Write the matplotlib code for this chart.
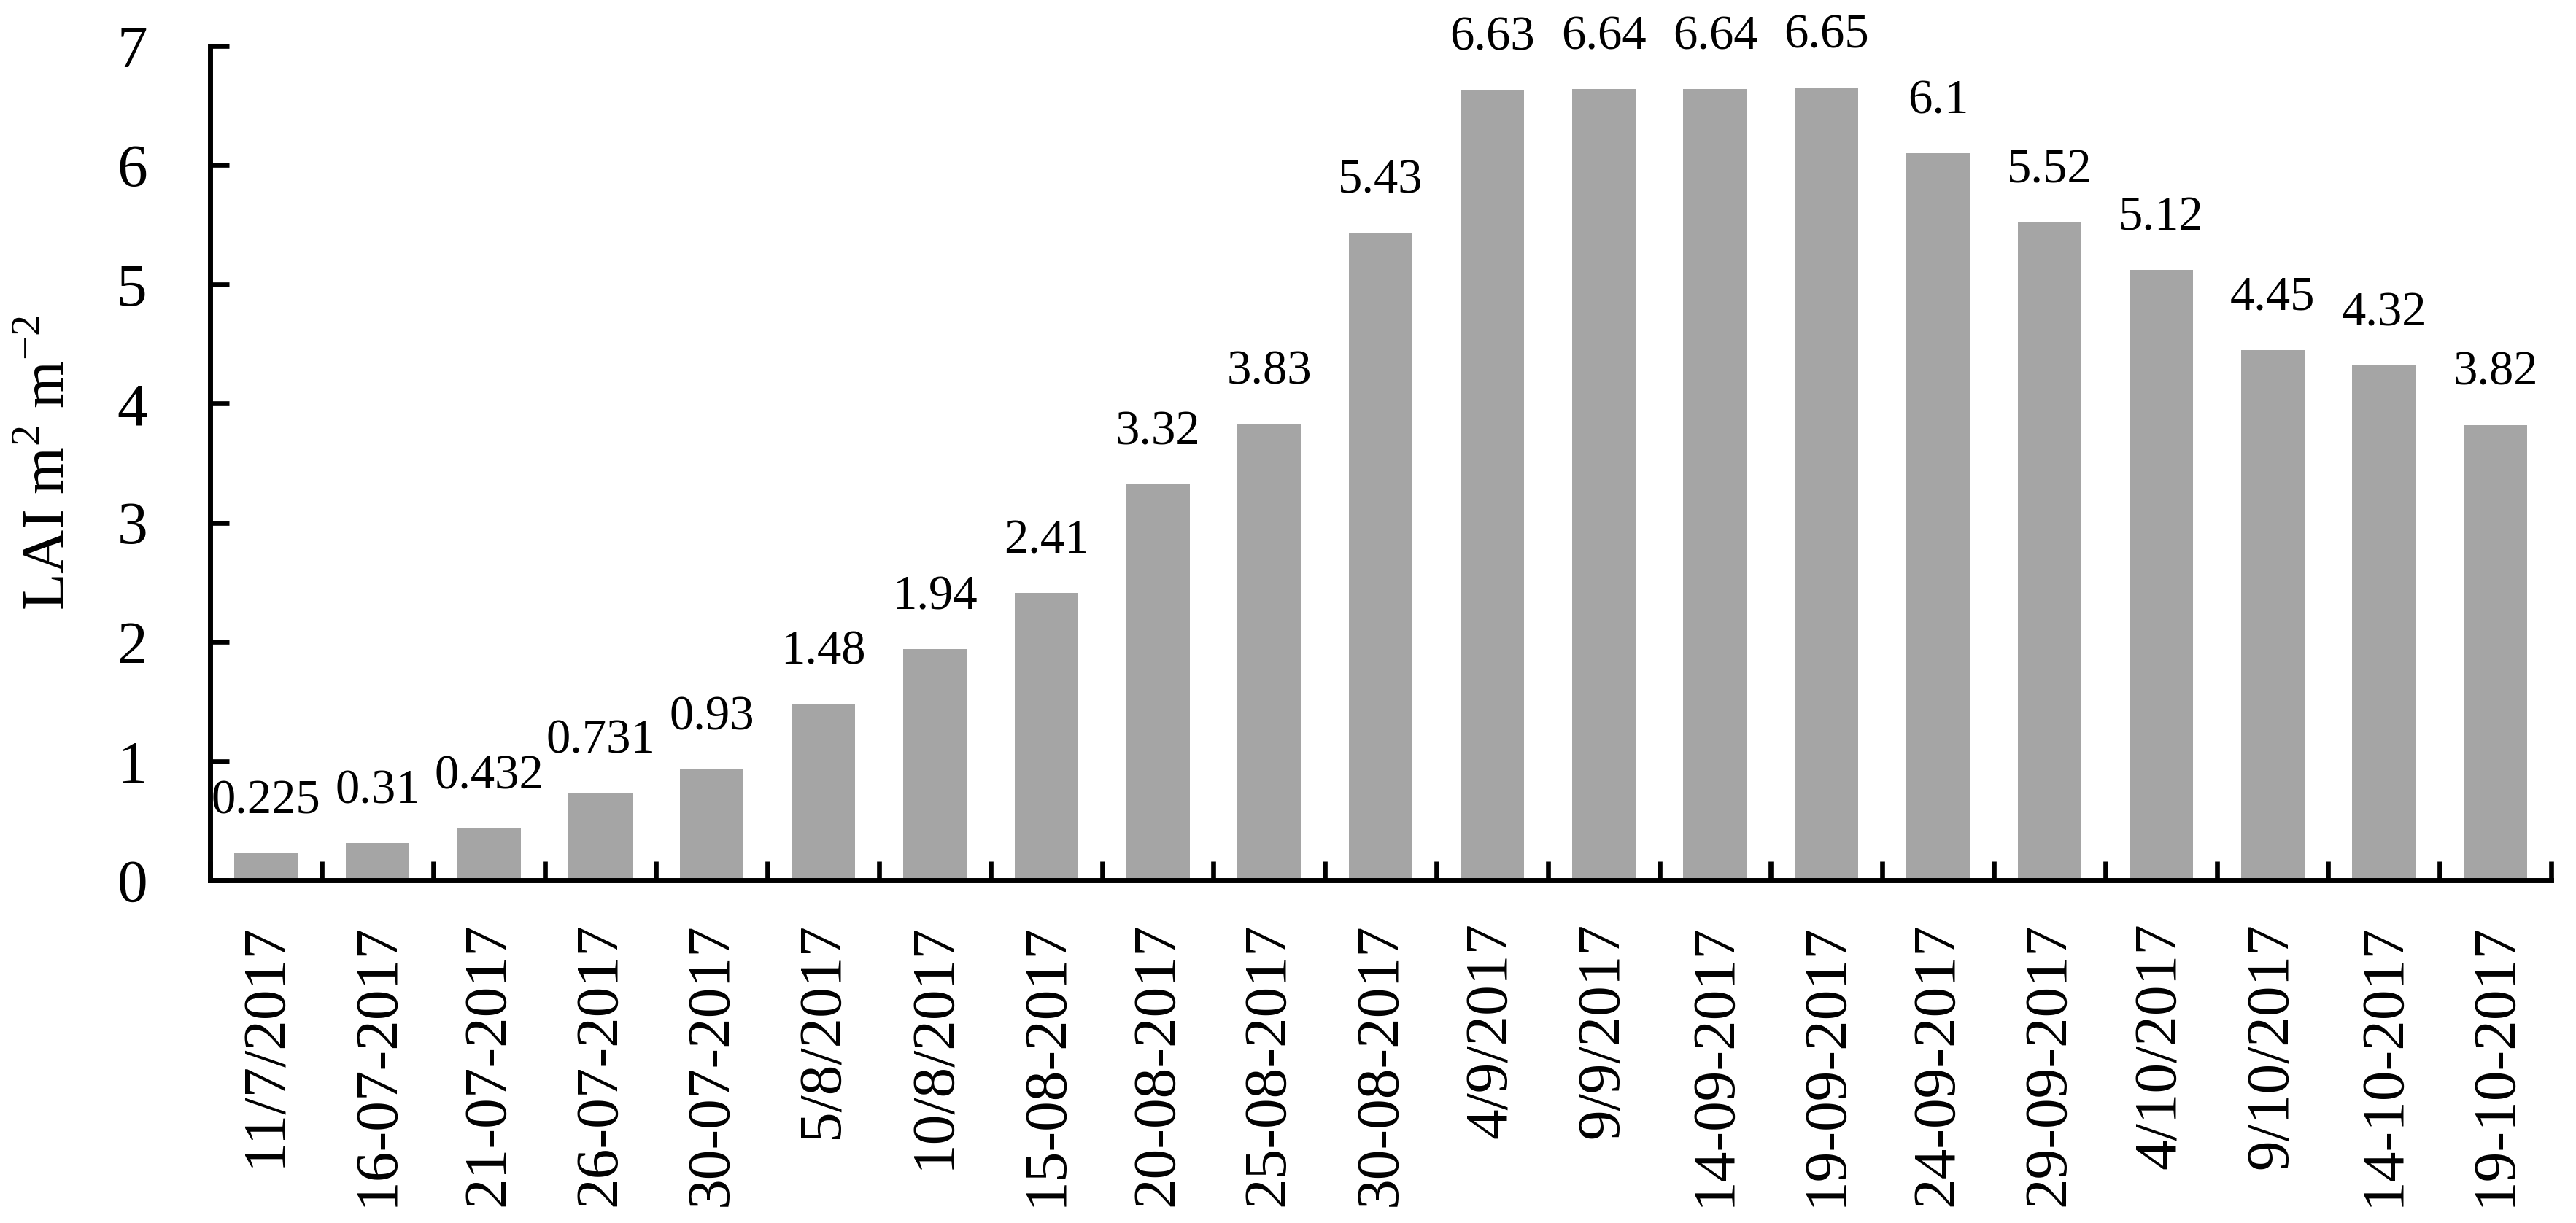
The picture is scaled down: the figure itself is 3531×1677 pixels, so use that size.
import matplotlib
matplotlib.use("Agg")
import matplotlib.pyplot as plt
import numpy as np

plt.rcParams['font.family'] = ['Liberation Serif', 'DejaVu Serif']
plt.rcParams['mathtext.fontset'] = 'custom'
plt.rcParams['mathtext.rm'] = 'Liberation Serif'

# sampling dates and LAI values
dates = ['11/7/2017', '16-07-2017', '21-07-2017', '26-07-2017', '30-07-2017',
         '5/8/2017', '10/8/2017', '15-08-2017', '20-08-2017', '25-08-2017',
         '30-08-2017', '4/9/2017', '9/9/2017', '14-09-2017', '19-09-2017',
         '24-09-2017', '29-09-2017', '4/10/2017', '9/10/2017', '14-10-2017',
         '19-10-2017']
lai = [0.225, 0.31, 0.432, 0.731, 0.93, 1.48, 1.94, 2.41, 3.32, 3.83,
       5.43, 6.63, 6.64, 6.64, 6.65, 6.1, 5.52, 5.12, 4.45, 4.32, 3.82]
lai_text = ['0.225', '0.31', '0.432', '0.731', '0.93', '1.48', '1.94', '2.41',
            '3.32', '3.83', '5.43', '6.63', '6.64', '6.64', '6.65', '6.1',
            '5.52', '5.12', '4.45', '4.32', '3.82']

fig = plt.figure(figsize=(35.31, 16.77), dpi=100)
ax = fig.add_axes([0.0816, 0.2803, 0.9088, 0.6821])

x = np.arange(len(dates))
ax.bar(x, lai, width=0.57, color='#a5a5a5', zorder=2)

for xi, v, t in zip(x, lai, lai_text):
    ax.text(xi, v + 0.25, t, ha='center', va='bottom', fontsize=48)

ax.set_xlim(-0.5, len(dates) - 0.5)
ax.set_ylim(0, 7)
ax.set_yticks(range(8))
ax.set_xticks(x)
ax.set_xticklabels(dates, rotation=90, fontsize=60)
ax.set_xticks(np.arange(-0.5, len(dates)), minor=True)
ax.tick_params(axis='x', which='major', length=0, pad=42)
ax.tick_params(axis='x', which='minor', direction='in', length=19, width=4.8)
ax.tick_params(axis='y', direction='in', length=19, width=4.8, labelsize=60, pad=62)

for s in ['top', 'right']:
    ax.spines[s].set_visible(False)
for s in ['left', 'bottom']:
    ax.spines[s].set_linewidth(5)

ax.set_ylabel('LAI m$^{2}$ m$^{-2}$', fontsize=60)
ax.yaxis.set_label_coords(-0.057, 0.5)

fig.savefig('out.png', dpi=100)
